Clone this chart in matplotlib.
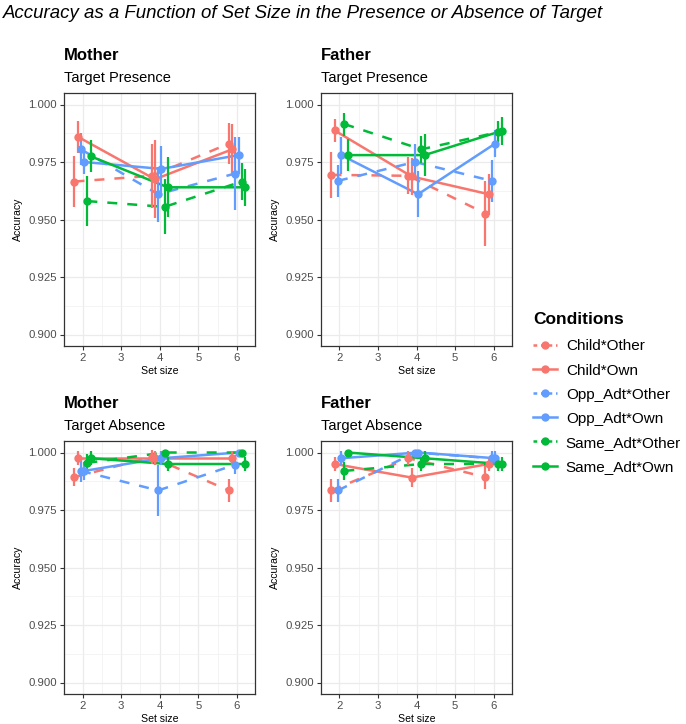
import numpy as np
import matplotlib
matplotlib.use("Agg")
import matplotlib.pyplot as plt
from matplotlib.lines import Line2D
from matplotlib.ticker import MultipleLocator

plt.rcParams['font.family'] = ['Liberation Sans', 'DejaVu Sans']

# Data
set_sizes = [2, 4, 6]
conditions = ['Child*Other', 'Child*Own', 'Opp_Adt*Other', 'Opp_Adt*Own',
              'Same_Adt*Other', 'Same_Adt*Own']

# mean accuracy, one row per condition, columns = set size 2, 4, 6
mother_presence = [[0.9665, 0.969, 0.983],
                   [0.986, 0.9675, 0.9805],
                   [0.9805, 0.961, 0.9700],
                   [0.975, 0.972, 0.978],
                   [0.958, 0.9555, 0.9665],
                   [0.9775, 0.964, 0.964]]
mother_presence_err = [[0.011, 0.014, 0.009],
                       [0.007, 0.017, 0.011],
                       [0.007, 0.012, 0.016],
                       [0.005, 0.010, 0.008],
                       [0.011, 0.012, 0.008],
                       [0.007, 0.013, 0.008]]

father_presence = [[0.9694, 0.969, 0.9526],
                   [0.9887, 0.9687, 0.961],
                   [0.9668, 0.975, 0.9668],
                   [0.978, 0.961, 0.983],
                   [0.9915, 0.9805, 0.988],
                   [0.978, 0.978, 0.9885]]
father_presence_err = [[0.010, 0.008, 0.014],
                       [0.005, 0.008, 0.009],
                       [0.007, 0.008, 0.009],
                       [0.008, 0.010, 0.006],
                       [0.005, 0.006, 0.005],
                       [0.007, 0.009, 0.006]]

mother_absence = [[0.9893, 0.998, 0.9835],
                  [0.9975, 0.9975, 0.9975],
                  [0.992, 0.9835, 0.9947],
                  [0.992, 0.9975, 1.000],
                  [0.9955, 1.000, 1.000],
                  [0.9975, 0.995, 0.995]]
mother_absence_err = [[0.004, 0.003, 0.005],
                      [0.003, 0.003, 0.003],
                      [0.005, 0.011, 0.004],
                      [0.004, 0.003, 0.000],
                      [0.004, 0.000, 0.000],
                      [0.003, 0.003, 0.003]]

father_absence = [[0.9835, 0.9975, 0.9893],
                  [0.995, 0.9891, 0.995],
                  [0.9835, 1.000, 0.9975],
                  [0.9975, 1.000, 0.9975],
                  [0.992, 0.995, 0.995],
                  [1.000, 0.9975, 0.995]]
father_absence_err = [[0.005, 0.003, 0.005],
                      [0.003, 0.004, 0.003],
                      [0.005, 0.000, 0.003],
                      [0.003, 0.000, 0.003],
                      [0.004, 0.003, 0.003],
                      [0.000, 0.003, 0.003]]

colors = ['#F8766D', '#F8766D', '#619CFF', '#619CFF', '#00BA38', '#00BA38']
styles = ['--', '-', '--', '-', '--', '-']

W, H = 686, 724
fig = plt.figure(figsize=(W / 100, H / 100), dpi=100)


def add_panel(left, top, right, bottom):
    return fig.add_axes([left / W, 1 - bottom / H, (right - left) / W, (bottom - top) / H])


def draw_panel(ax, means, errs, title, subtitle):
    dodge = 0.5 / len(conditions)
    for i, cond in enumerate(conditions):
        xs = np.array(set_sizes) + (i - (len(conditions) - 1) / 2) * dodge
        ax.plot(xs, means[i], color=colors[i], ls=styles[i], lw=1.8,
                dashes=(4, 4) if styles[i] == '--' else (None, None), zorder=3)
        ax.errorbar(xs, means[i], yerr=errs[i], fmt='o', color=colors[i],
                    ms=5, elinewidth=1.6, capsize=0, zorder=4)
    ax.set_xlim(1.52, 6.48)
    ax.set_ylim(0.895, 1.005)
    ax.xaxis.set_major_locator(MultipleLocator(1))
    ax.xaxis.set_minor_locator(MultipleLocator(0.5))
    ax.set_yticks([0.900, 0.925, 0.950, 0.975, 1.000])
    ax.yaxis.set_minor_locator(MultipleLocator(0.0125))
    ax.set_yticklabels(['0.900', '0.925', '0.950', '0.975', '1.000'])
    ax.grid(which='major', color='#EBEBEB', lw=0.9)
    ax.grid(which='minor', color='#F2F2F2', lw=0.6)
    ax.set_axisbelow(True)
    for s in ax.spines.values():
        s.set_color('#333333')
        s.set_linewidth(0.9)
    ax.tick_params(which='major', length=3, width=0.8, color='#333333',
                   labelsize=8.2, labelcolor='#4D4D4D', pad=2)
    ax.tick_params(which='minor', length=0)
    ax.set_xlabel('Set size', fontsize=7.6, labelpad=2)
    ax.set_ylabel('Accuracy', fontsize=7.6, labelpad=4)
    ax.text(0, 1.13, title, transform=ax.transAxes, fontsize=12, fontweight='bold',
            va='baseline', ha='left')
    ax.text(0, 1.045, subtitle, transform=ax.transAxes, fontsize=10.5,
            va='baseline', ha='left')


ax1 = add_panel(64, 93, 255.5, 346)
draw_panel(ax1, mother_presence, mother_presence_err, 'Mother', 'Target Presence')
ax2 = add_panel(321, 93, 512, 346)
draw_panel(ax2, father_presence, father_presence_err, 'Father', 'Target Presence')
ax3 = add_panel(64, 441, 255.5, 694)
draw_panel(ax3, mother_absence, mother_absence_err, 'Mother', 'Target Absence')
ax4 = add_panel(321, 441, 512, 694)
draw_panel(ax4, father_absence, father_absence_err, 'Father', 'Target Absence')

fig.text(3 / W, 1 - 13 / H, 'Accuracy as a Function of Set Size in the Presence or Absence of Target',
         fontsize=13.4, style='italic', va='center', ha='left')

handles = [Line2D([0], [0], color=colors[i], ls=styles[i], lw=1.8, marker='o', ms=5,
                  dashes=(1.5, 1.5) if styles[i] == '--' else (None, None))
           for i in range(len(conditions))]
leg = fig.legend(handles, conditions, loc='upper left', bbox_to_anchor=(533 / W, 1 - 312 / H),
                 frameon=False, title='Conditions', fontsize=11, handlelength=1.6,
                 labelspacing=0.66, handletextpad=0.55, alignment='left',
                 borderpad=0, borderaxespad=0)
leg.get_title().set_fontweight('bold')
leg.get_title().set_fontsize(12.5)
# a little extra gap between legend title and first key
leg._legend_box.sep = 9

fig.savefig('out.png', dpi=100)
